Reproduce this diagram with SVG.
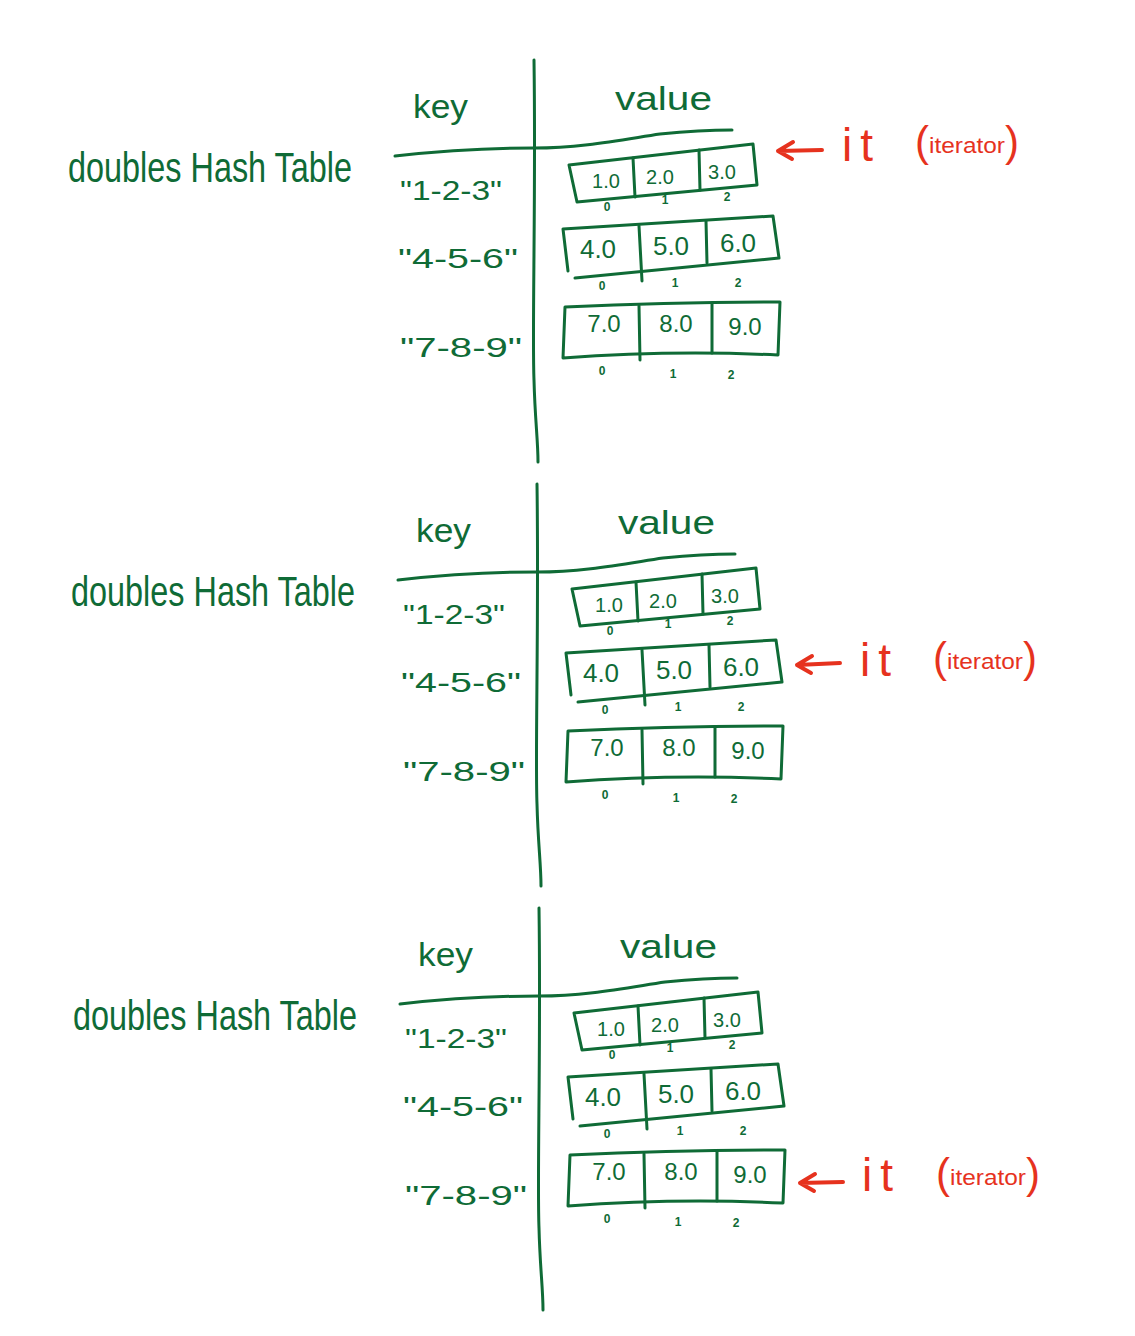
<svg xmlns="http://www.w3.org/2000/svg" width="1135" height="1336" viewBox="0 0 1135 1336">
<style>
  .ink { fill: none; stroke: #0f6b36; stroke-width: 3; stroke-linecap: round; stroke-linejoin: round; }
  .red { fill: none; stroke: #e6321e; stroke-width: 4; stroke-linecap: round; stroke-linejoin: round; }
  .g { fill: #0f6b36; font-family: "Liberation Sans", "DejaVu Sans", sans-serif; }
  .r { fill: #e6321e; font-family: "Liberation Sans", "DejaVu Sans", sans-serif; }
  .title { font-size: 32px; }
  .hdr { font-size: 34px; }
  .key { font-size: 28px; }
  .v1 { font-size: 20px; text-anchor: middle; }
  .v2 { font-size: 26px; text-anchor: middle; }
  .v3 { font-size: 24px; text-anchor: middle; }
  .idx { font-size: 12px; font-weight: bold; text-anchor: middle; }
  .it { font-size: 46px; letter-spacing: 8px; }
</style>
<rect width="1135" height="1336" fill="#ffffff"/>

<g id="panel1">
  <g transform="scale(1,1.3)"><text class="g title" x="68" y="140" textLength="284" lengthAdjust="spacingAndGlyphs">doubles Hash Table</text></g>
  <path class="ink" d="M534,60 C536,200 532,330 534,380 C535,420 538,440 538,462"/>
  <path class="ink" d="M395,156 C440,151 490,148 534,148 C580,148 620,140 660,134 C690,131 710,130 732,130"/>
  <text class="g hdr" x="413" y="118" textLength="55" lengthAdjust="spacingAndGlyphs">key</text>
  <text class="g hdr" x="615" y="110" textLength="97" lengthAdjust="spacingAndGlyphs">value</text>
  <text class="g key" x="400" y="200" textLength="102" lengthAdjust="spacingAndGlyphs">"1-2-3"</text>
  <text class="g key" x="398" y="268" textLength="120" lengthAdjust="spacingAndGlyphs">"4-5-6"</text>
  <text class="g key" x="400" y="357" textLength="122" lengthAdjust="spacingAndGlyphs">"7-8-9"</text>
  <g id="p1-row1">
    <path class="ink" d="M569,165 L753,144 L757,185 L577,202 Z"/>
    <path class="ink" d="M633,158 L635,197 M699,150 L700,190"/>
    <text class="g v1" x="606" y="188">1.0</text>
    <text class="g v1" x="660" y="184">2.0</text>
    <text class="g v1" x="722" y="179">3.0</text>
    <text class="g idx" x="607" y="211">0</text>
    <text class="g idx" x="665" y="204">1</text>
    <text class="g idx" x="727" y="201">2</text>
  </g>
  <g id="p1-row2">
    <path class="ink" d="M568,271 L563,229 L773,216 L779,258 L575,278"/>
    <path class="ink" d="M639,226 L642,281 M706,221 L707,263"/>
    <text class="g v2" x="598" y="258">4.0</text>
    <text class="g v2" x="671" y="255">5.0</text>
    <text class="g v2" x="738" y="252">6.0</text>
    <text class="g idx" x="602" y="290">0</text>
    <text class="g idx" x="675" y="287">1</text>
    <text class="g idx" x="738" y="287">2</text>
  </g>
  <g id="p1-row3">
    <path class="ink" d="M565,307 Q670,302 780,302 L778,355 Q670,350 563,358 Z"/>
    <path class="ink" d="M639,306 L640,360 M712,303 L712,353"/>
    <text class="g v3" x="604" y="332">7.0</text>
    <text class="g v3" x="676" y="332">8.0</text>
    <text class="g v3" x="745" y="335">9.0</text>
    <text class="g idx" x="602" y="375">0</text>
    <text class="g idx" x="673" y="378">1</text>
    <text class="g idx" x="731" y="379">2</text>
  </g>
  <text class="r it" x="842" y="161">it</text>
  <text class="r" x="915" y="156"><tspan font-size="42">(</tspan><tspan font-size="22" dy="-3" textLength="76" lengthAdjust="spacingAndGlyphs">iterator</tspan><tspan font-size="42" dy="3">)</tspan></text>
</g>

<g id="panel2" transform="translate(3,424)">
  <g transform="scale(1,1.3)"><text class="g title" x="68" y="140" textLength="284" lengthAdjust="spacingAndGlyphs">doubles Hash Table</text></g>
  <path class="ink" d="M534,60 C536,200 532,330 534,380 C535,420 538,440 538,462"/>
  <path class="ink" d="M395,156 C440,151 490,148 534,148 C580,148 620,140 660,134 C690,131 710,130 732,130"/>
  <text class="g hdr" x="413" y="118" textLength="55" lengthAdjust="spacingAndGlyphs">key</text>
  <text class="g hdr" x="615" y="110" textLength="97" lengthAdjust="spacingAndGlyphs">value</text>
  <text class="g key" x="400" y="200" textLength="102" lengthAdjust="spacingAndGlyphs">"1-2-3"</text>
  <text class="g key" x="398" y="268" textLength="120" lengthAdjust="spacingAndGlyphs">"4-5-6"</text>
  <text class="g key" x="400" y="357" textLength="122" lengthAdjust="spacingAndGlyphs">"7-8-9"</text>
  <g id="p2-row1">
    <path class="ink" d="M569,165 L753,144 L757,185 L577,202 Z"/>
    <path class="ink" d="M633,158 L635,197 M699,150 L700,190"/>
    <text class="g v1" x="606" y="188">1.0</text>
    <text class="g v1" x="660" y="184">2.0</text>
    <text class="g v1" x="722" y="179">3.0</text>
    <text class="g idx" x="607" y="211">0</text>
    <text class="g idx" x="665" y="204">1</text>
    <text class="g idx" x="727" y="201">2</text>
  </g>
  <g id="p2-row2">
    <path class="ink" d="M568,271 L563,229 L773,216 L779,258 L575,278"/>
    <path class="ink" d="M639,226 L642,281 M706,221 L707,263"/>
    <text class="g v2" x="598" y="258">4.0</text>
    <text class="g v2" x="671" y="255">5.0</text>
    <text class="g v2" x="738" y="252">6.0</text>
    <text class="g idx" x="602" y="290">0</text>
    <text class="g idx" x="675" y="287">1</text>
    <text class="g idx" x="738" y="287">2</text>
  </g>
  <g id="p2-row3">
    <path class="ink" d="M565,307 Q670,302 780,302 L778,355 Q670,350 563,358 Z"/>
    <path class="ink" d="M639,306 L640,360 M712,303 L712,353"/>
    <text class="g v3" x="604" y="332">7.0</text>
    <text class="g v3" x="676" y="332">8.0</text>
    <text class="g v3" x="745" y="335">9.0</text>
    <text class="g idx" x="602" y="375">0</text>
    <text class="g idx" x="673" y="378">1</text>
    <text class="g idx" x="731" y="379">2</text>
  </g>
  <text class="r it" x="857" y="252">it</text>
  <text class="r" x="930" y="248"><tspan font-size="42">(</tspan><tspan font-size="22" dy="-3" textLength="76" lengthAdjust="spacingAndGlyphs">iterator</tspan><tspan font-size="42" dy="3">)</tspan></text>
</g>

<g id="panel3" transform="translate(5,848)">
  <g transform="scale(1,1.3)"><text class="g title" x="68" y="140" textLength="284" lengthAdjust="spacingAndGlyphs">doubles Hash Table</text></g>
  <path class="ink" d="M534,60 C536,200 532,330 534,380 C535,420 538,440 538,462"/>
  <path class="ink" d="M395,156 C440,151 490,148 534,148 C580,148 620,140 660,134 C690,131 710,130 732,130"/>
  <text class="g hdr" x="413" y="118" textLength="55" lengthAdjust="spacingAndGlyphs">key</text>
  <text class="g hdr" x="615" y="110" textLength="97" lengthAdjust="spacingAndGlyphs">value</text>
  <text class="g key" x="400" y="200" textLength="102" lengthAdjust="spacingAndGlyphs">"1-2-3"</text>
  <text class="g key" x="398" y="268" textLength="120" lengthAdjust="spacingAndGlyphs">"4-5-6"</text>
  <text class="g key" x="400" y="357" textLength="122" lengthAdjust="spacingAndGlyphs">"7-8-9"</text>
  <g id="p3-row1">
    <path class="ink" d="M569,165 L753,144 L757,185 L577,202 Z"/>
    <path class="ink" d="M633,158 L635,197 M699,150 L700,190"/>
    <text class="g v1" x="606" y="188">1.0</text>
    <text class="g v1" x="660" y="184">2.0</text>
    <text class="g v1" x="722" y="179">3.0</text>
    <text class="g idx" x="607" y="211">0</text>
    <text class="g idx" x="665" y="204">1</text>
    <text class="g idx" x="727" y="201">2</text>
  </g>
  <g id="p3-row2">
    <path class="ink" d="M568,271 L563,229 L773,216 L779,258 L575,278"/>
    <path class="ink" d="M639,226 L642,281 M706,221 L707,263"/>
    <text class="g v2" x="598" y="258">4.0</text>
    <text class="g v2" x="671" y="255">5.0</text>
    <text class="g v2" x="738" y="252">6.0</text>
    <text class="g idx" x="602" y="290">0</text>
    <text class="g idx" x="675" y="287">1</text>
    <text class="g idx" x="738" y="287">2</text>
  </g>
  <g id="p3-row3">
    <path class="ink" d="M565,307 Q670,302 780,302 L778,355 Q670,350 563,358 Z"/>
    <path class="ink" d="M639,306 L640,360 M712,303 L712,353"/>
    <text class="g v3" x="604" y="332">7.0</text>
    <text class="g v3" x="676" y="332">8.0</text>
    <text class="g v3" x="745" y="335">9.0</text>
    <text class="g idx" x="602" y="375">0</text>
    <text class="g idx" x="673" y="378">1</text>
    <text class="g idx" x="731" y="379">2</text>
  </g>
  <text class="r it" x="857" y="343">it</text>
  <text class="r" x="931" y="340"><tspan font-size="42">(</tspan><tspan font-size="22" dy="-3" textLength="76" lengthAdjust="spacingAndGlyphs">iterator</tspan><tspan font-size="42" dy="3">)</tspan></text>
</g>

<g id="connectors">
  <path class="red" d="M822,150 L778,151 M793,142 L778,151 L792,159"/>
  <path class="red" d="M840,663 L797,665 M812,656 L797,665 L811,673"/>
  <path class="red" d="M843,1182 L800,1183 M815,1174 L800,1183 L814,1191"/>
</g>
</svg>
